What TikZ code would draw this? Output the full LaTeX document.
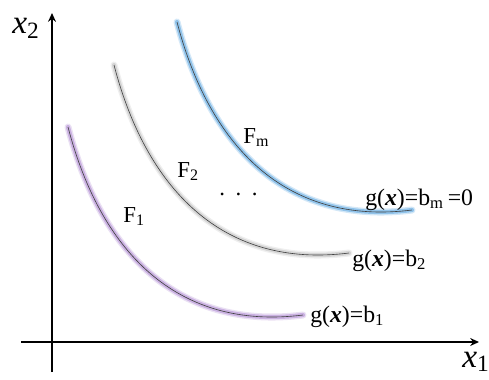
\documentclass[tikz,border=0pt]{standalone}
\usepackage{fontspec}
\setmainfont{Liberation Serif}
\usetikzlibrary{arrows.meta}
\definecolor{glowpurple}{RGB}{196,168,222}
\definecolor{glowgray}{RGB}{208,208,208}
\definecolor{glowblue}{RGB}{132,188,232}
\newcommand{\gx}{g(\textbf{\textit{x}})}
% one level curve, drawn from its upper end #1 with glow colour #2
\newcommand{\levelcurve}[2]{%
  \draw[halo, draw=#2, shift={#1}] (0,0) .. controls (32,123) and (108,204) .. (235,188);
  \draw[glow, draw=#2, shift={#1}] (0,0) .. controls (32,123) and (108,204) .. (235,188);
  \draw[core, shift={#1}] (0,0) .. controls (32,123) and (108,204) .. (235,188);
}
\begin{document}
\begin{tikzpicture}[x=0.02cm, y=-0.02cm,
  axis/.style={-{Stealth[length=5pt, width=4.5pt]}, line width=1.1pt},
  halo/.style={line width=4pt, line cap=round, opacity=0.35},
  glow/.style={line width=2.4pt, line cap=round, opacity=0.85},
  core/.style={line width=0.35pt, draw=black!75},
  lbl/.style={font=\fontsize{13.5}{15}\selectfont, anchor=base west, inner sep=0pt},
  flbl/.style={font=\fontsize{13}{15}\selectfont, anchor=base west, inner sep=0pt},
  axlbl/.style={font=\fontsize{19}{21}\selectfont\itshape, anchor=base west, inner sep=0pt}
]
  \useasboundingbox (0,0) rectangle (489,379);

  % axes
  \coordinate (o1) at (52,372);
  \coordinate (y2) at (52,13);
  \coordinate (o2) at (21,342);
  \coordinate (x1) at (479,342);
  \draw[axis] (o1) -- (y2);
  \draw[axis] (o2) -- (x1);
  \node[axlbl] (lx2) at (12,33) {x\textsubscript{\upshape 2}};
  \node[axlbl] (lx1) at (462,367) {x\textsubscript{\upshape 1}};

  % level curves
  \levelcurve{(68,127)}{glowpurple}
  \levelcurve{(114,65)}{glowgray}
  \levelcurve{(177,22)}{glowblue}

  % labels
  \node[flbl] (f1) at (123,222) {F\textsubscript{1}};
  \node[flbl] (f2) at (177,177) {F\textsubscript{2}};
  \node[flbl] (fm) at (243,143) {F\textsubscript{m}};
  \node[flbl] (dots) at (219,195) {.\hspace{6pt}.\hspace{6pt}.};

  \node[lbl] (b1) at (310,322) {\gx=b\textsubscript{1}};
  \node[lbl] (b2) at (352,266) {\gx=b\textsubscript{2}};
  \node[lbl] (bm) at (365,205) {\gx=b\textsubscript{m}\,=0};
\end{tikzpicture}
\end{document}
